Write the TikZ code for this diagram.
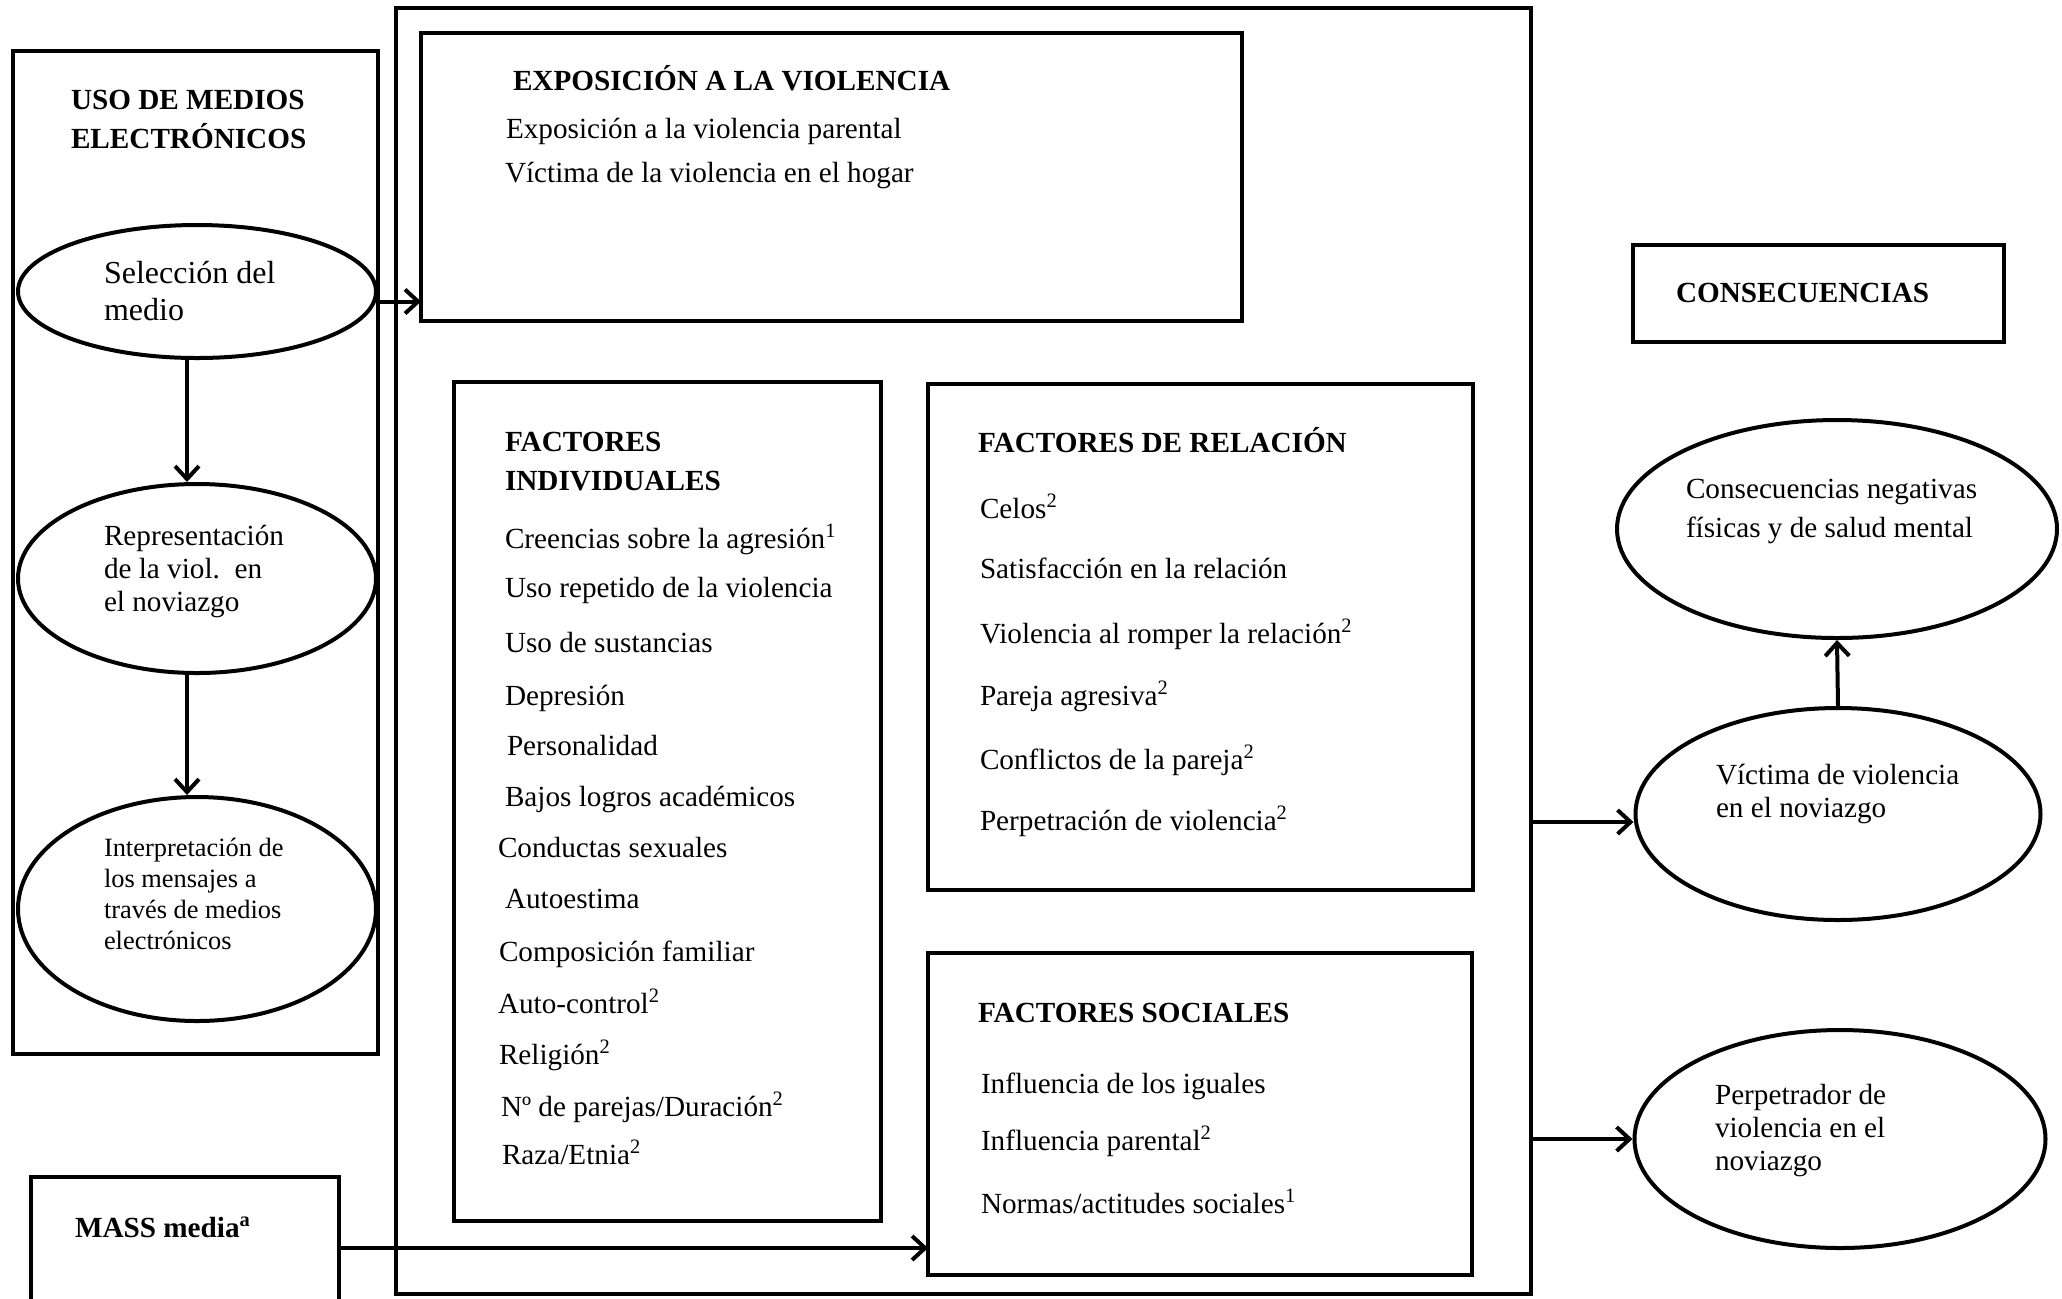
\documentclass[tikz,border=0pt]{standalone}
\usepackage{fontspec}
\setmainfont{Liberation Serif}
\usetikzlibrary{shapes.geometric,arrows.meta}
\tikzset{
  frame/.style={draw, line width=2pt, inner sep=0pt, outer sep=0pt, rectangle},
  oval/.style={draw, line width=2pt, inner sep=0pt, ellipse},
  arr/.style={line width=2pt, -{Straight Barb[length=6.5pt,width=12pt,line width=2pt]}},
  txt/.style={anchor=base west, inner sep=0pt, outer sep=0pt, align=left, font=\fontsize{14.6}{16.5}\selectfont},
  ttl/.style={txt, font=\fontsize{14.6}{19.5}\selectfont\bfseries},
}
\begin{document}
\begin{tikzpicture}[x=0.5pt, y=-0.5pt]
\clip (0,0) rectangle (2062,1298);
\fill[white] (0,0) rectangle (2062,1298);

% frames
\node[frame, minimum width=182.5pt, minimum height=501.5pt] (uso) at (195.5,552.5) {};
\node[frame, minimum width=567.5pt, minimum height=643pt] (big) at (963.5,651) {};
\node[frame, minimum width=410.5pt, minimum height=144pt] (expo) at (831.5,177) {};
\node[frame, minimum width=213.5pt, minimum height=419.5pt] (indiv) at (667.5,801.5) {};
\node[frame, minimum width=272.5pt, minimum height=253pt] (rel) at (1200.5,637) {};
\node[frame, minimum width=272pt, minimum height=161pt] (soc) at (1200,1114) {};
\node[frame, minimum width=154pt, minimum height=71pt] (mass) at (185,1248) {};
\node[frame, minimum width=185.5pt, minimum height=48.5pt] (cons) at (1818.5,293.5) {};

% ellipses
\node[oval, minimum width=179pt, minimum height=66.5pt] (e1) at (197,291.5) {};
\node[oval, minimum width=179pt, minimum height=94.5pt] (e2) at (197,578.5) {};
\node[oval, minimum width=179pt, minimum height=112pt] (e3) at (197,909) {};
\node[oval, minimum width=220pt, minimum height=109pt] (ecn) at (1837,529) {};
\node[oval, minimum width=202.5pt, minimum height=106pt] (evic) at (1838,814) {};
\node[oval, minimum width=205.5pt, minimum height=109pt] (eper) at (1840,1139) {};

% texts: left column (multi-line nodes are placed at the baseline of their last line)
\node[ttl] (tuso) at (71,148) {USO DE MEDIOS\\ELECTRÓNICOS};
\node[txt, font=\fontsize{16}{18.5}\selectfont] (te1) at (104,320) {Selección del\\medio};
\node[txt] (te2) at (104,611) {Representación\\de la viol.\ \ en\\el noviazgo};
\node[txt, font=\fontsize{13.2}{15.5}\selectfont] (te3) at (104,949) {Interpretación de\\los mensajes a\\través de medios\\electrónicos};
\node[ttl] (tmass) at (75,1237) {MASS media\textsuperscript{a}};

% exposicion
\node[ttl] (texpo) at (513,90) {EXPOSICIÓN A LA VIOLENCIA};
\node[txt] (x1) at (506,138) {Exposición a la violencia parental};
\node[txt] (x2) at (505,182) {Víctima de la violencia en el hogar};

% individuales
\node[ttl] (tind) at (505,490) {FACTORES\\INDIVIDUALES};
\node[txt] (i1) at (505,548) {Creencias sobre la agresión\textsuperscript{1}};
\node[txt] (i2) at (505,597) {Uso repetido de la violencia};
\node[txt] (i3) at (505,652) {Uso de sustancias};
\node[txt] (i4) at (505,705) {Depresión};
\node[txt] (i5) at (507,755) {Personalidad};
\node[txt] (i6) at (505,806) {Bajos logros académicos};
\node[txt] (i7) at (498,857) {Conductas sexuales};
\node[txt] (i8) at (505,908) {Autoestima};
\node[txt] (i9) at (499,961) {Composición familiar};
\node[txt] (i10) at (498,1013) {Auto-control\textsuperscript{2}};
\node[txt] (i11) at (499,1064) {Religión\textsuperscript{2}};
\node[txt] (i12) at (501,1116) {Nº de parejas/Duración\textsuperscript{2}};
\node[txt] (i13) at (502,1164) {Raza/Etnia\textsuperscript{2}};

% relacion
\node[ttl] (trel) at (978,452) {FACTORES DE RELACIÓN};
\node[txt] (r1) at (980,518) {Celos\textsuperscript{2}};
\node[txt] (r2) at (980,578) {Satisfacción en la relación};
\node[txt] (r3) at (980,643) {Violencia al romper la relación\textsuperscript{2}};
\node[txt] (r4) at (980,705) {Pareja agresiva\textsuperscript{2}};
\node[txt] (r5) at (980,769) {Conflictos de la pareja\textsuperscript{2}};
\node[txt] (r6) at (980,830) {Perpetración de violencia\textsuperscript{2}};

% sociales
\node[ttl] (tsoc) at (978,1022) {FACTORES SOCIALES};
\node[txt] (s1) at (981,1093) {Influencia de los iguales};
\node[txt] (s2) at (981,1150) {Influencia parental\textsuperscript{2}};
\node[txt] (s3) at (981,1213) {Normas/actitudes sociales\textsuperscript{1}};

% consecuencias
\node[ttl] (tcons) at (1676,302) {CONSECUENCIAS};
\node[txt, font=\fontsize{14.6}{19.5}\selectfont] (tcn) at (1686,537) {Consecuencias negativas\\físicas y de salud mental};
\node[txt] (tvic) at (1716,817) {Víctima de violencia\\en el noviazgo};
\node[txt] (tper) at (1715,1170) {Perpetrador de\\violencia en el\\noviazgo};

% connectors
\draw[arr] ([xshift=-5pt]e1.south) -- ([xshift=-5pt]e2.north);
\draw[arr] ([xshift=-5pt]e2.south) -- ([xshift=-5pt]e3.north);
\draw[arr] ([yshift=-5pt]e1.east) -- ([yshift=-5pt]e1.east -| expo.west);
\draw[arr] (mass.east) -- (mass.east -| soc.west);
\draw[arr] ([yshift=-4pt]big.east |- evic.west) -- ([yshift=-4pt]evic.west);
\draw[arr] (big.east |- eper.west) -- (eper.west);
\draw[arr] (evic.north) -- (ecn.south);
\end{tikzpicture}
\end{document}
